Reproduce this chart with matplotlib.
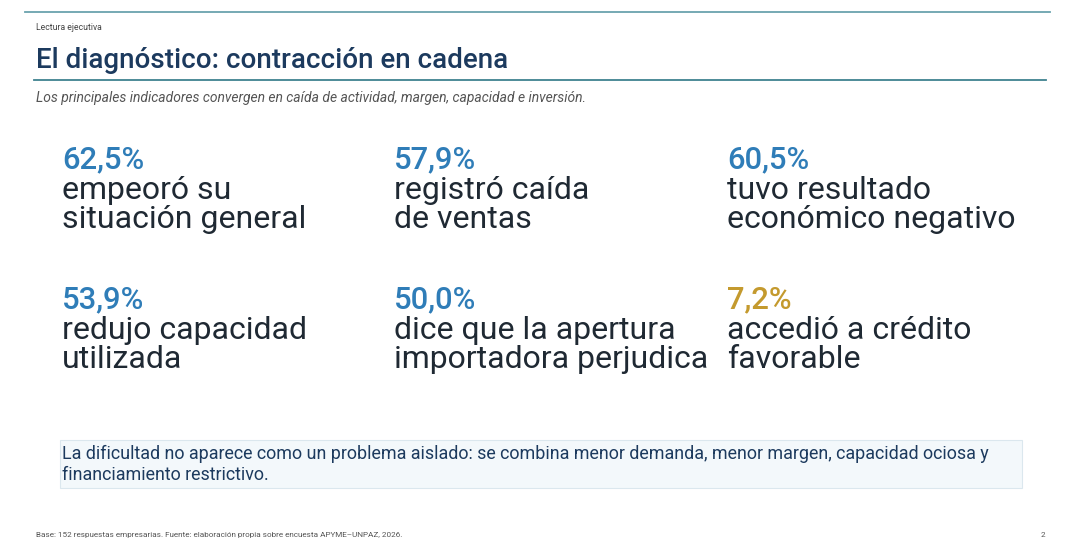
import matplotlib
matplotlib.use("Agg")
import matplotlib.pyplot as plt
from matplotlib.patches import Rectangle

plt.rcParams["font.family"] = ["Roboto", "DejaVu Sans"]

# datos del tablero
valores = [62.5, 57.9, 60.5, 53.9, 50.0, 7.2]
textos = [
    ["empeoró su", "situación general"],
    ["registró caída", "de ventas"],
    ["tuvo resultado", "económico negativo"],
    ["redujo capacidad", "utilizada"],
    ["dice que la apertura", "importadora perjudica"],
    ["accedió a crédito", "favorable"],
]
destacado = [False, False, False, False, False, True]

titulo = "El diagnóstico: contracción en cadena"
subtitulo = "Los principales indicadores convergen en caída de actividad, margen, capacidad e inversión."
mensaje = ["La dificultad no aparece como un problema aislado: se combina menor demanda, menor margen, capacidad ociosa y",
           "financiamiento restrictivo."]
fuente = "Base: 152 respuestas empresarias. Fuente: elaboración propia sobre encuesta APYME–UNPAZ, 2026."

AZUL = "#2f7db8"
ORO = "#c49a2e"
NAVY = "#1c3a5e"
TEXTO = "#1f2933"
GRIS = "#555555"

fig = plt.figure(figsize=(10.8, 5.55), dpi=100)
ax = fig.add_axes([0, 0, 1, 1])
ax.set_xlim(0, 1080)
ax.set_ylim(555, 0)
ax.axis("off")

# lineas de cabecera
ax.plot([25, 1050], [12, 12], color="#6aa3ae", lw=1.3)
ax.plot([34, 1046], [80, 80], color="#3f8290", lw=1.3)

ax.text(36, 27, "Lectura ejecutiva", fontsize=6.2, color="#444444", va="center")
ax.text(36, 68, titulo, fontsize=20, color=NAVY, fontweight="medium", va="baseline")
ax.text(36, 102, subtitulo, fontsize=10, color=GRIS, style="italic", va="baseline")

col_x = [62, 394, 727]
fila_y = [168, 308]
for i, (v, t) in enumerate(zip(valores, textos)):
    x = col_x[i % 3]
    y = fila_y[i // 3]
    color = ORO if destacado[i] else AZUL
    ax.text(x, y, f"{v:.1f}%".replace(".", ","), fontsize=22.3, color=color,
            fontweight="medium", va="baseline")
    for j, linea in enumerate(t):
        ax.text(x, y + 31 + 29.5 * j, linea, fontsize=23, color=TEXTO,
                va="baseline")

# recuadro de mensaje
ax.add_patch(Rectangle((60, 440), 962, 48, facecolor="#f3f8fb",
                       edgecolor="#dbe7ee", lw=0.8))
for j, linea in enumerate(mensaje):
    ax.text(62, 459 + 20.5 * j, linea, fontsize=12.9, color=NAVY, va="baseline")

ax.text(36, 535, fuente, fontsize=5.9, color="#555555", va="center")
ax.text(1045, 535, "2", fontsize=5.9, color="#555555", va="center", ha="right")

fig.savefig("out.png", dpi=100)
